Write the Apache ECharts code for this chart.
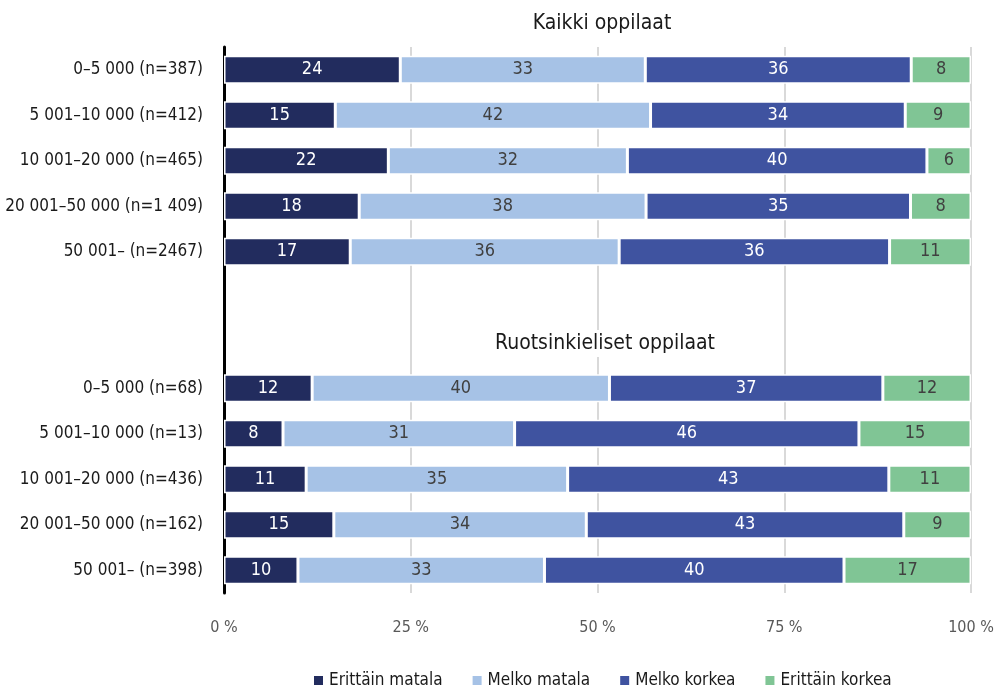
<!DOCTYPE html>
<html>
<head>
<meta charset="utf-8">
<script src="https://cdn.jsdelivr.net/npm/echarts@6/dist/echarts.min.js"></script>
<style>
  html, body { margin: 0; padding: 0; background: #fff; }
  #chart { width: 996px; height: 689px; }
</style>
</head>
<body>
<div id="chart"></div>
<script>
// rows: 5 groups for all pupils, a blank row, a row for the second heading, 5 groups for Swedish-speaking
const categories = [
  '0–5 000 (n=387)', '5 001–10 000 (n=412)', '10 001–20 000 (n=465)', '20 001–50 000 (n=1 409)', '50 001– (n=2467)',
  '', '',
  '0–5 000 (n=68)', '5 001–10 000 (n=13)', '10 001–20 000 (n=436)', '20 001–50 000 (n=162)', '50 001– (n=398)'
]
const seriesNames = ['Erittäin matala', 'Melko matala', 'Melko korkea', 'Erittäin korkea']
const erittainMatala = [23.6, 14.9, 22.0, 18.1, 16.9, null, null, 11.8, 7.9, 11.0, 14.7, 9.9]
const melkoMatala = [32.8, 42.2, 32.0, 38.4, 36.0, null, null, 39.8, 31.0, 35.0, 33.8, 33.0]
const melkoKorkea = [35.6, 34.1, 40.1, 35.4, 36.2, null, null, 36.6, 46.1, 43.0, 42.5, 40.1]
const erittainKorkea = [8.0, 8.8, 5.9, 8.1, 10.9, null, null, 11.8, 15.0, 11.0, 9.0, 17.0]
const xTicks = [0, 25, 50, 75, 100]

const FONT = "'Liberation Sans Narrow', 'DejaVu Sans Condensed', sans-serif"
const colors = ['#222c5e', '#a6c2e6', '#3f53a0', '#80c595']
const labelColors = ['#ffffff', '#404040', '#ffffff', '#404040']
const values = [erittainMatala, melkoMatala, melkoKorkea, erittainKorkea]

const chart = echarts.init(document.getElementById('chart'))

chart.setOption({
  animation: false,
  textStyle: { fontFamily: FONT },
  title: [
    {
      text: 'Kaikki oppilaat',
      left: 597, top: 8, textAlign: 'center',
      textStyle: { fontFamily: FONT, fontSize: 21, fontWeight: 'normal', color: '#1a1a1a' }
    },
    {
      text: 'Ruotsinkieliset oppilaat',
      left: 597, top: 330, textAlign: 'center',
      backgroundColor: '#ffffff', padding: [3, 8],
      textStyle: { fontFamily: FONT, fontSize: 21, fontWeight: 'normal', color: '#1a1a1a' }
    }
  ],
  legend: {
    data: seriesNames,
    left: 307, top: 667,
    icon: 'rect', itemWidth: 11, itemHeight: 11, itemGap: 28,
    textStyle: { fontFamily: FONT, fontSize: 17, color: '#1a1a1a' }
  },
  grid: { left: 224, right: 25, top: 47, bottom: 96, outerBoundsMode: 'none' },
  xAxis: {
    type: 'value',
    min: 0, max: 100, interval: 25,
    axisLine: { show: false },
    axisTick: { show: false },
    axisLabel: {
      margin: 27, fontSize: 16, color: '#595959', fontFamily: FONT,
      formatter: v => xTicks.includes(v) ? v + ' %' : ''
    },
    splitLine: { lineStyle: { color: '#d9d9d9', width: 2 } }
  },
  yAxis: {
    type: 'category',
    inverse: true,
    data: categories,
    axisLine: { show: true, lineStyle: { color: '#000000', width: 3 } },
    axisTick: { show: false },
    axisLabel: { margin: 21, fontSize: 17, color: '#1a1a1a', fontFamily: FONT }
  },
  series: seriesNames.map((name, i) => ({
    name,
    type: 'bar',
    stack: 'total',
    barWidth: 28,
    data: values[i],
    itemStyle: { color: colors[i], borderColor: '#ffffff', borderWidth: 1.5 },
    label: {
      show: true,
      position: 'inside',
      fontFamily: FONT,
      fontSize: 18,
      color: labelColors[i],
      formatter: p => p.value == null ? '' : Math.round(p.value)
    }
  }))
})
</script>
</body>
</html>
